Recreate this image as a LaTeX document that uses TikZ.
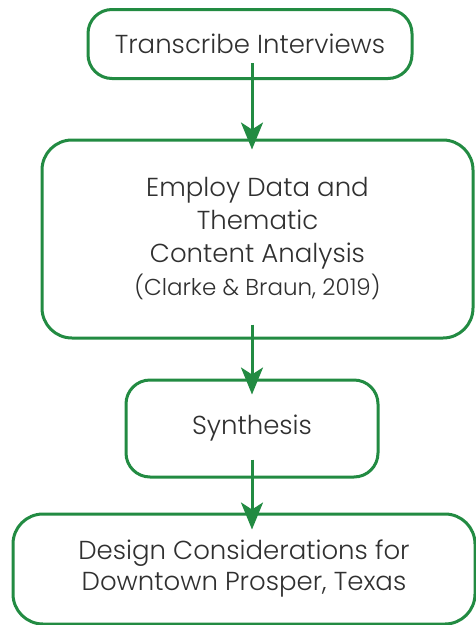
\documentclass[tikz,border=0pt]{standalone}
\usepackage{fontspec}
\setmainfont{Poppins Light}
\usetikzlibrary{arrows.meta,calc}
\definecolor{flowgreen}{RGB}{34,139,66}
\definecolor{inkgray}{RGB}{48,48,48}
\tikzset{
  stage/.style={draw=flowgreen, line width=3pt, rounded corners=#1,
    inner sep=0pt, align=center, text=inkgray, font=\fontsize{26}{33}\selectfont},
  stage/.default=24pt,
  flow/.style={draw=flowgreen, line width=3pt,
    -{Stealth[length=27pt, width=22pt, inset=7pt, fill=flowgreen]}}
}
\begin{document}
\begin{tikzpicture}[x=1pt, y=-1pt]
  \useasboundingbox (0,0) rectangle (476,625);
  \clip (0,0) rectangle (476,625);
  \fill[white] (0,0) rectangle (476,625);

  % vertical axis shared by all connectors
  \coordinate (axis) at (252,0);

  \node[stage, minimum width=324pt, minimum height=69pt] (t1) at (250,44)
    {Transcribe Interviews};
  \node[stage=30pt, minimum width=431pt, minimum height=198pt] (t2) at (257.5,239)
    {Employ Data and\\Thematic\\Content Analysis\\
     {\fontsize{23}{33}\selectfont (Clarke \& Braun, 2019)}};
  \node[stage, minimum width=252pt, minimum height=97pt] (t3) at (252,428.5)
    {Synthesis};
  \node[stage=30pt, minimum width=462pt, minimum height=110pt,
        font=\fontsize{26}{31}\selectfont] (t4) at (244,569)
    {Design Considerations for\\Downtown Prosper, Texas};

  \draw[flow] ($(axis |- t1.south)+(0,-17)$) -- ($(axis |- t2.north)+(0,11)$);
  \draw[flow] ($(axis |- t2.south)+(0,-15)$) -- ($(axis |- t3.north)+(0,16)$);
  \draw[flow] ($(axis |- t3.south)+(0,-19)$) -- ($(axis |- t4.north)+(0,17)$);
\end{tikzpicture}
\end{document}
